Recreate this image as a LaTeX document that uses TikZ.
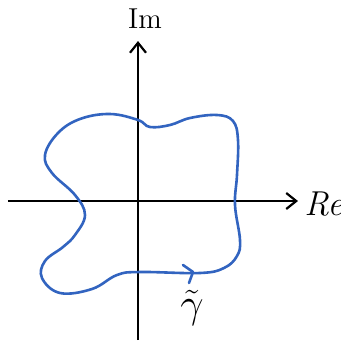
\documentclass[tikz,border=0pt]{standalone}
\usetikzlibrary{arrows.meta}
\definecolor{curveblue}{RGB}{50,100,192}
\begin{document}
\begin{tikzpicture}[x=0.5pt,y=-0.5pt,
  axis/.style={line width=1.2pt,black,-{Straight Barb[length=5pt,width=8pt,line width=1.1pt]}},
  contour/.style={line width=1.3pt,curveblue},
  lbl/.style={inner sep=0pt}]
\useasboundingbox (0,0) rectangle (341,344);
\fill[white] (0,0) rectangle (341,344);
% axes
\coordinate (xs) at (8,201);
\coordinate (xe) at (298,201);
\coordinate (ys) at (138,340);
\coordinate (ye) at (138,41);
\draw[axis] (xs) -- (xe);
\draw[axis] (ys) -- (ye);
% labels
\node[lbl] (im) at (145,19) {\Large$\mathrm{Im}$};
\node[lbl] (re) at (325,204) {\LARGE$\mathit{Re}$};
\node[lbl] (gam) at (192,308) {\huge$\tilde{\gamma}$};
% contour
\draw[contour] plot[smooth cycle, tension=0.65] coordinates {
(140,272) (200,273) (224,268) (237,256) (240,240)
(235,205) (237,175) (238,140) (233,121) (217,115) (190,118)
(170,125) (150,127) (138,120) (110,114) (80,119) (58,133)
(45,155) (52,173) (75,195) (85,215) (75,235)
(63,247) (45,261) (42,278) (60,293) (92,289) (117,275)};
% direction arrow
\coordinate (a1) at (183,265);
\coordinate (a2) at (193,272);
\coordinate (a3) at (189,283);
\draw[contour,line cap=round,line join=round] (a1) -- (a2) -- (a3);
\end{tikzpicture}
\end{document}
